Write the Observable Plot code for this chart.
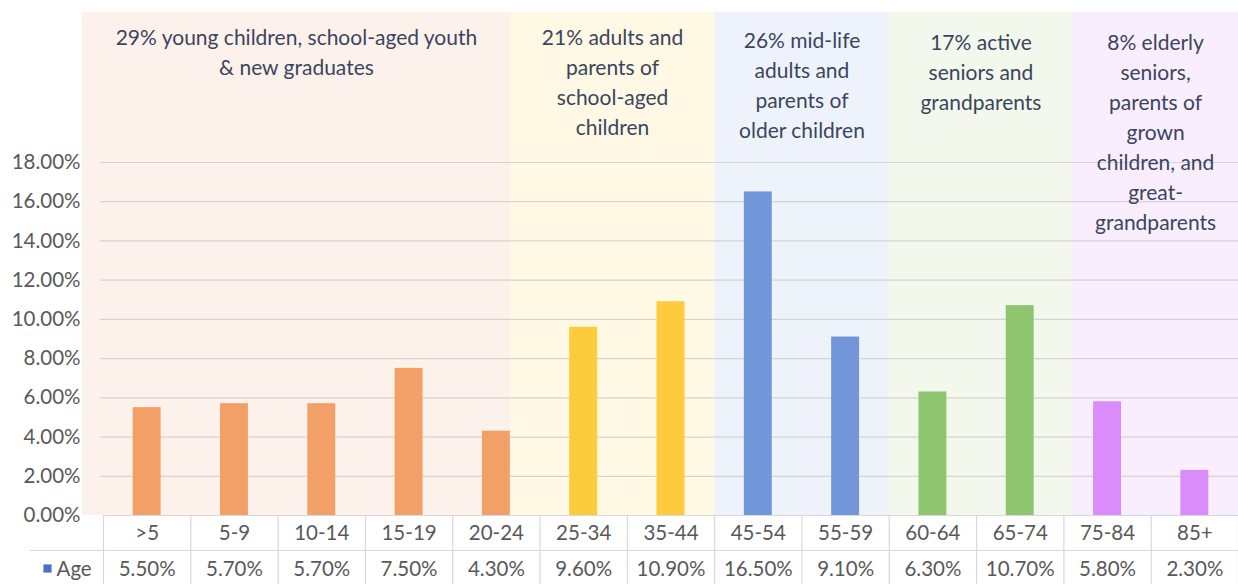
<!DOCTYPE html>
<html>
<head>
<meta charset="utf-8">
<script src="https://cdn.jsdelivr.net/npm/d3@7"></script>
<script src="https://cdn.jsdelivr.net/npm/@observablehq/plot@0.6"></script>
<style>
  html, body { margin: 0; padding: 0; background: #ffffff; }
</style>
</head>
<body>
<div id="chart"></div>
<script>
// ---------- DATA ----------
const categories = [">5", "5-9", "10-14", "15-19", "20-24", "25-34", "35-44", "45-54", "55-59", "60-64", "65-74", "75-84", "85+"];
const values = [5.5, 5.7, 5.7, 7.5, 4.3, 9.6, 10.9, 16.5, 9.1, 6.3, 10.7, 5.8, 2.3];
const groupOfCategory = [0, 0, 0, 0, 0, 1, 1, 2, 2, 3, 3, 4, 4];
const groupLabels = [
  "29% young children, school-aged youth\n& new graduates",
  "21% adults and\nparents of\nschool-aged\nchildren",
  "26% mid-life\nadults and\nparents of\nolder children",
  "17% active\nseniors and\ngrandparents",
  "8% elderly\nseniors,\nparents of\ngrown\nchildren, and\ngreat-\ngrandparents"
];
const yTicks = [0, 2, 4, 6, 8, 10, 12, 14, 16, 18];
const seriesName = "Age";

// ---------- STYLE / LAYOUT ----------
const barColors  = ["#F2A068", "#FDCB3C", "#7196D9", "#8EC56F", "#DA8DFA"];
const bandColors = ["#FDF2EB", "#FFF8E4", "#EEF3FB", "#F2F9EC", "#F8EEFD"];
const bandEdges = [-0.74, 4.16, 6.5, 8.5, 10.6, 12.5]; // in category units
const labelTopPx = [23, 23, 26, 28, 28];
const W = 1238, H = 584, mt = 162, mb = 69, ml = 103, mr = 0;
const pxPerY = (H - mt - mb) / 18;
const pxPerX = (W - ml - mr) / 13;
const yAt = px => (H - mb - px) / pxPerY;        // pixel row -> y value
const xAt = px => (px - ml) / pxPerX - 0.5;      // pixel col -> x value
const font = "Lato, 'Open Sans', sans-serif";
const textColor = "#3A4560";
const tickFont = 20.5;

const rows = categories.map((c, i) => ({i, c, v: values[i], g: groupOfCategory[i]}));
const groups = groupLabels.map((label, g) => ({
  g, label, x1: bandEdges[g], x2: bandEdges[g + 1], mid: (bandEdges[g] + bandEdges[g + 1]) / 2
}));
const boundaries = d3.range(0, 14).map(k => k - 0.5);

const chart = Plot.plot({
  width: W, height: H,
  marginTop: mt, marginBottom: mb, marginLeft: ml, marginRight: mr,
  x: {domain: [-0.5, 12.5], axis: null},
  y: {domain: [0, 18], axis: null},
  style: {fontFamily: font, color: "#595959", background: "#ffffff", overflow: "visible"},
  marks: [
    // background group bands
    Plot.rect(groups, {x1: "x1", x2: "x2", y1: 0, y2: yAt(12), fill: d => bandColors[d.g]}),
    // gridlines
    Plot.ruleY(yTicks.filter(d => d > 0), {x1: xAt(100), x2: 12.5, stroke: "#D6D3D0", strokeWidth: 1.2}),
    // bars
    Plot.rectY(rows, {x1: d => d.i - 0.16, x2: d => d.i + 0.16, y1: 0, y2: "v", fill: d => barColors[d.g]}),
    // y axis labels
    Plot.axisY({ticks: yTicks, tickFormat: d => d.toFixed(2) + "%", tickSize: 0, tickPadding: 23, fontSize: tickFont, anchor: "left", label: null}),
    // table: horizontal lines
    Plot.ruleY([0], {x1: -0.5, x2: 12.5, stroke: "#D9D9D9", strokeWidth: 1.2}),
    Plot.ruleY([0], {x1: xAt(30), x2: 12.5, dy: 35, stroke: "#D9D9D9", strokeWidth: 1.2}),
    // table: vertical lines
    Plot.ruleX(boundaries, {y1: 0, y2: yAt(H), stroke: "#D9D9D9", strokeWidth: 1.2}),
    // category row
    Plot.axisX({ticks: categories.map((c, i) => i), tickFormat: i => categories[i], tickSize: 0, tickPadding: 10, fontSize: tickFont, anchor: "bottom", label: null}),
    // value row
    Plot.text(rows, {x: "i", y: 0, dy: 54, text: d => d.v.toFixed(2) + "%", fontSize: tickFont, fill: "#595959"}),
    // legend key in table
    Plot.dot([0], {x: -0.5, y: 0, dx: -56, dy: 53, symbol: "square", r: 4.6, fill: "#4472C4", stroke: "none"}),
    Plot.text([seriesName], {x: -0.5, y: 0, dx: -47, dy: 54, text: d => d, textAnchor: "start", fontSize: tickFont, fill: "#595959"}),
    // group annotations
    Plot.text(groups, {x: "mid", y: d => yAt(labelTopPx[d.g]), text: "label", lineAnchor: "top", lineHeight: 1.43, fontSize: 21, fill: textColor})
  ]
});
document.getElementById("chart").appendChild(chart);
</script>
</body>
</html>
